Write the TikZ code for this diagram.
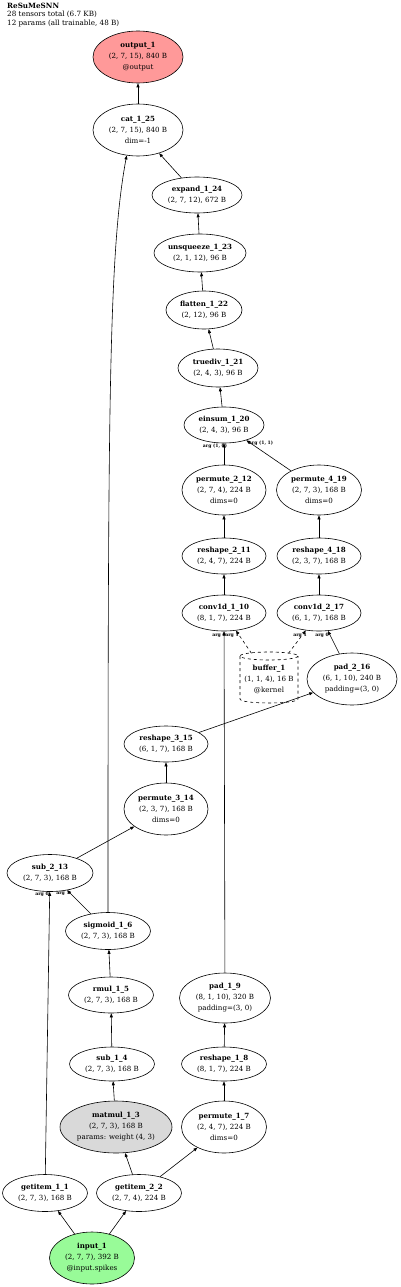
\documentclass[tikz,border=0pt]{standalone}
\usepackage{fontspec}
\setmainfont{DejaVu Serif}
\usetikzlibrary{shapes.geometric,arrows.meta}
\definecolor{outfill}{RGB}{255,153,153}
\definecolor{infill}{RGB}{152,251,152}
\definecolor{parfill}{RGB}{217,217,217}
\begin{document}
\begin{tikzpicture}[x=1pt,y=-1pt,
  op/.style={ellipse, draw, line width=0.6pt, inner sep=0pt, align=center,
    font=\fontsize{7.1}{11}\selectfont},
  arr/.style={-{Triangle[length=4pt,width=3pt]}, line width=0.6pt},
  lbl/.style={font=\fontsize{4.6}{5}\selectfont\bfseries, inner sep=0pt},
  ttl/.style={anchor=north west, align=left, inner sep=0pt, font=\fontsize{7.2}{8.3}\selectfont}]
\useasboundingbox (0,0) rectangle (400,1287);

\node[ttl] (title) at (7,3) {\textbf{ReSuMeSNN}\\28 tensors total (6.7 KB)\\12 params (all trainable, 48 B)};

\node[op, fill=outfill, minimum width=90pt, minimum height=52pt] (output_1) at (138,57) {\textbf{output\_1}\\(2, 7, 15), 840 B\\@output};
\node[op, minimum width=90pt, minimum height=52pt] (cat_1_25) at (138,130) {\textbf{cat\_1\_25}\\(2, 7, 15), 840 B\\dim=-1};
\node[op, minimum width=90pt, minimum height=36pt] (expand_1_24) at (197,195) {\textbf{expand\_1\_24}\\(2, 7, 12), 672 B};
\node[op, minimum width=92pt, minimum height=38pt] (unsqueeze_1_23) at (200,253) {\textbf{unsqueeze\_1\_23}\\(2, 1, 12), 96 B};
\node[op, minimum width=76pt, minimum height=38pt] (flatten_1_22) at (204,310) {\textbf{flatten\_1\_22}\\(2, 12), 96 B};
\node[op, minimum width=80pt, minimum height=38pt] (truediv_1_21) at (218,368) {\textbf{truediv\_1\_21}\\(2, 4, 3), 96 B};
\node[op, minimum width=80pt, minimum height=36pt] (einsum_1_20) at (224,425) {\textbf{einsum\_1\_20}\\(2, 4, 3), 96 B};
\node[op, minimum width=84pt, minimum height=50pt] (permute_2_12) at (224,490) {\textbf{permute\_2\_12}\\(2, 7, 4), 224 B\\dims=0};
\node[op, minimum width=85pt, minimum height=50pt] (permute_4_19) at (319,490) {\textbf{permute\_4\_19}\\(2, 7, 3), 168 B\\dims=0};
\node[op, minimum width=84pt, minimum height=36pt] (reshape_2_11) at (224,556) {\textbf{reshape\_2\_11}\\(2, 4, 7), 224 B};
\node[op, minimum width=84pt, minimum height=36pt] (reshape_4_18) at (319,556) {\textbf{reshape\_4\_18}\\(2, 3, 7), 168 B};
\node[op, minimum width=84pt, minimum height=36pt] (conv1d_1_10) at (224,613) {\textbf{conv1d\_1\_10}\\(8, 1, 7), 224 B};
\node[op, minimum width=84pt, minimum height=36pt] (conv1d_2_17) at (319,613) {\textbf{conv1d\_2\_17}\\(6, 1, 7), 168 B};
\node[rectangle, inner sep=0pt, minimum width=58pt, minimum height=51pt, align=center,
  font=\fontsize{7.1}{11}\selectfont] (buffer_1) at (269,679) {\textbf{buffer\_1}\\(1, 1, 4), 16 B\\@kernel};
\draw[dashed, line width=0.6pt] (269,656) ellipse [x radius=29, y radius=4];
\draw[dashed, line width=0.6pt] (240,656) -- (240,699) .. controls (240,704.3) and (298,704.3) .. (298,699) -- (298,656);
\node[op, minimum width=90pt, minimum height=52pt] (pad_2_16) at (352,679) {\textbf{pad\_2\_16}\\(6, 1, 10), 240 B\\padding=(3, 0)};
\node[op, minimum width=84pt, minimum height=36pt] (reshape_3_15) at (166,744) {\textbf{reshape\_3\_15}\\(6, 1, 7), 168 B};
\node[op, minimum width=84pt, minimum height=52pt] (permute_3_14) at (166,809) {\textbf{permute\_3\_14}\\(2, 3, 7), 168 B\\dims=0};
\node[op, minimum width=86pt, minimum height=37pt] (sub_2_13) at (50,873) {\textbf{sub\_2\_13}\\(2, 7, 3), 168 B};
\node[op, minimum width=85pt, minimum height=37pt] (sigmoid_1_6) at (108,931) {\textbf{sigmoid\_1\_6}\\(2, 7, 3), 168 B};
\node[op, minimum width=85pt, minimum height=36pt] (rmul_1_5) at (111,995) {\textbf{rmul\_1\_5}\\(2, 7, 3), 168 B};
\node[op, minimum width=91pt, minimum height=50pt] (pad_1_9) at (225,998) {\textbf{pad\_1\_9}\\(8, 1, 10), 320 B\\padding=(3, 0)};
\node[op, minimum width=85pt, minimum height=34pt] (sub_1_4) at (112,1064) {\textbf{sub\_1\_4}\\(2, 7, 3), 168 B};
\node[op, minimum width=85pt, minimum height=34pt] (reshape_1_8) at (224,1064) {\textbf{reshape\_1\_8}\\(8, 1, 7), 224 B};
\node[op, fill=parfill, minimum width=112pt, minimum height=52pt] (matmul_1_3) at (116,1127) {\textbf{matmul\_1\_3}\\(2, 7, 3), 168 B\\params: weight (4, 3)};
\node[op, minimum width=85pt, minimum height=52pt] (permute_1_7) at (224,1127) {\textbf{permute\_1\_7}\\(2, 4, 7), 224 B\\dims=0};
\node[op, minimum width=85pt, minimum height=37pt] (getitem_1_1) at (45,1193) {\textbf{getitem\_1\_1}\\(2, 7, 3), 168 B};
\node[op, minimum width=85pt, minimum height=37pt] (getitem_2_2) at (139,1193) {\textbf{getitem\_2\_2}\\(2, 7, 4), 224 B};
\node[op, fill=infill, minimum width=85pt, minimum height=52pt] (input_1) at (92,1258) {\textbf{input\_1}\\(2, 7, 7), 392 B\\@input.spikes};

\draw[arr] (input_1) -- (getitem_1_1);
\draw[arr] (input_1) -- (getitem_2_2);
\draw[arr] (getitem_2_2) -- (matmul_1_3);
\draw[arr] (getitem_2_2) -- (permute_1_7);
\draw[arr] (getitem_1_1) -- (sub_2_13);
\draw[arr] (matmul_1_3) -- (sub_1_4);
\draw[arr] (sub_1_4) -- (rmul_1_5);
\draw[arr] (rmul_1_5) -- (sigmoid_1_6);
\draw[arr] (sigmoid_1_6) -- (sub_2_13);
\draw[arr] (sigmoid_1_6.north) .. controls (108,400) and (109,250) .. (cat_1_25.-114);
\draw[arr] (permute_1_7) -- (reshape_1_8);
\draw[arr] (reshape_1_8) -- (pad_1_9);
\draw[arr] (pad_1_9) -- (conv1d_1_10);
\draw[arr, dashed] (buffer_1) -- (conv1d_1_10);
\draw[arr, dashed] (buffer_1) -- (conv1d_2_17);
\draw[arr] (sub_2_13) -- (permute_3_14);
\draw[arr] (permute_3_14) -- (reshape_3_15);
\draw[arr] (reshape_3_15) -- (pad_2_16);
\draw[arr] (pad_2_16) -- (conv1d_2_17);
\draw[arr] (conv1d_1_10) -- (reshape_2_11);
\draw[arr] (reshape_2_11) -- (permute_2_12);
\draw[arr] (permute_2_12) -- (einsum_1_20);
\draw[arr] (conv1d_2_17) -- (reshape_4_18);
\draw[arr] (reshape_4_18) -- (permute_4_19);
\draw[arr] (permute_4_19) -- (einsum_1_20);
\draw[arr] (einsum_1_20) -- (truediv_1_21);
\draw[arr] (truediv_1_21) -- (flatten_1_22);
\draw[arr] (flatten_1_22) -- (unsqueeze_1_23);
\draw[arr] (unsqueeze_1_23) -- (expand_1_24);
\draw[arr] (expand_1_24) -- (cat_1_25);
\draw[arr] (cat_1_25) -- (output_1);

\node[lbl] (lab_e0) at (215,446) {arg (1, 0)};
\node[lbl] (lab_e1) at (261,443) {arg (1, 1)};
\node[lbl] (lab_c10) at (219,635) {arg 0};
\node[lbl] (lab_c11) at (232,635) {arg 1};
\node[lbl] (lab_c21) at (300,635) {arg 1};
\node[lbl] (lab_c20) at (322,635) {arg 0};
\node[lbl] (lab_s0) at (42,894) {arg 0};
\node[lbl] (lab_s1) at (63,893) {arg 1};
\end{tikzpicture}
\end{document}
